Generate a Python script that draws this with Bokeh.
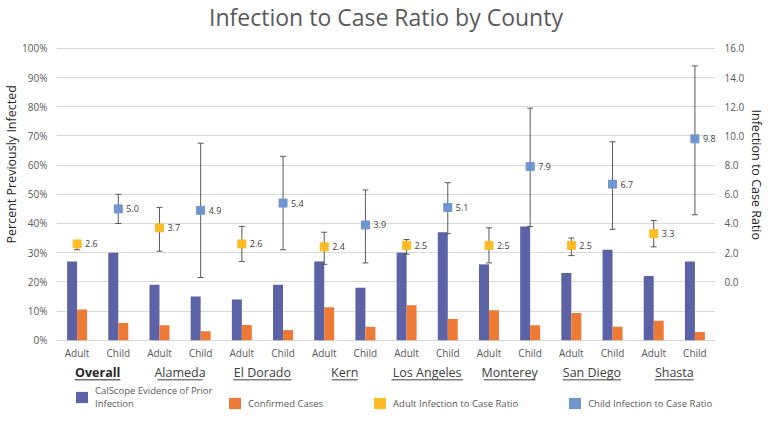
from bokeh.plotting import figure
from bokeh.models import (Range1d, LinearAxis, FixedTicker, PrintfTickFormatter,
                          ColumnDataSource, Legend, LegendItem, Title)
from bokeh.transform import dodge
from bokeh.embed import file_html
from bokeh.resources import INLINE

# ---------------- data ----------------
counties = ["Overall", "Alameda", "El Dorado", "Kern", "Los Angeles", "Monterey", "San Diego", "Shasta"]
ages = ["Adult", "Child"]
calscope = [27, 30, 19, 15, 14, 19, 27, 18, 30, 37, 26, 39, 23, 31, 22, 27]          # % prior infection
confirmed = [10.5, 5.9, 5.1, 3.1, 5.2, 3.5, 11.3, 4.6, 12.0, 7.3, 10.3, 5.1, 9.3, 4.6, 6.7, 2.8]  # % confirmed
ratio = [2.6, 5.0, 3.7, 4.9, 2.6, 5.4, 2.4, 3.9, 2.5, 5.1, 2.5, 7.9, 2.5, 6.7, 3.3, 9.8]
ratio_low = [2.2, 4.0, 2.1, 0.3, 1.4, 2.2, 1.2, 1.3, 1.9, 3.3, 1.3, 3.8, 1.8, 3.6, 2.4, 4.6]
ratio_high = [2.8, 6.0, 5.1, 9.5, 3.8, 8.6, 3.4, 6.3, 2.9, 6.8, 3.7, 11.9, 3.0, 9.6, 4.2, 14.8]
pct_ticks = list(range(0, 101, 10))
ratio_ticks = list(range(0, 17, 2))

# ---------------- style / layout ----------------
FONT = "Open Sans"
BLUE = "#5B62A6"
ORANGE = "#EE7A36"
YELLOW = "#FDBB26"
LBLUE = "#7096D0"
GRID = "#D9D9D9"
TXT = "#595959"
DARK = "#404040"
INK = "#262626"

W, H = 766, 411
BL, BR, BT, BB = 56, 50, 30, 0
frame_h = H - BT - BB
frame_w = W - BL - BR
hundred_px = 44 - BT          # px from frame top to the 100% line
zero_px = 339 - BT            # px from frame top to the 0% line
k = (zero_px - hundred_px) / 100.0   # px per percent
y_end = 100 + hundred_px / k
y_start = y_end - frame_h / k
n = len(calscope)
ux = frame_w / n              # px per category

p = figure(width=W, height=H, output_backend="svg", toolbar_location=None,
           x_range=Range1d(-0.5, n - 0.5), y_range=Range1d(y_start, y_end),
           x_axis_type=None,
           min_border_left=BL, min_border_right=BR, min_border_top=BT, min_border_bottom=BB)
p.outline_line_color = None
p.background_fill_color = "white"

p.title.text = "Infection to Case Ratio by County"
p.title.align = "center"
p.title.vertical_align = "top"
p.title.text_font = FONT
p.title.text_font_size = "23px"
p.title.text_font_style = "normal"
p.title.text_color = TXT
p.title.standoff = 0

# left axis
ya = p.yaxis[0]
ya.ticker = FixedTicker(ticks=pct_ticks)
ya.formatter = PrintfTickFormatter(format="%d%%")
ya.axis_line_color = None
ya.major_tick_line_color = None
ya.minor_tick_line_color = None
ya.major_tick_out = 0
ya.major_tick_in = 0
ya.major_label_text_font = FONT
ya.major_label_text_font_size = "10px"
ya.major_label_text_color = TXT
ya.major_label_standoff = 9
p.ygrid.ticker = FixedTicker(ticks=pct_ticks)
p.ygrid.grid_line_color = GRID

# right axis: ratio r drawn at 20 + 5*r percent
p.extra_y_ranges = {"ratio": Range1d((y_start - 20) / 5.0, (y_end - 20) / 5.0)}
ra = LinearAxis(y_range_name="ratio", ticker=FixedTicker(ticks=ratio_ticks),
                formatter=PrintfTickFormatter(format="%.1f"))
ra.axis_line_color = None
ra.major_tick_line_color = None
ra.minor_tick_line_color = None
ra.major_tick_out = 0
ra.major_tick_in = 0
ra.major_label_text_font = FONT
ra.major_label_text_font_size = "10px"
ra.major_label_text_color = TXT
ra.major_label_standoff = 9
p.add_layout(ra, "right")

# axis titles (as side titles so they can sit where the reference has them)
p.add_layout(Title(text="Percent Previously Infected", align="left", offset=H - BB - 243,
                   text_font=FONT, text_font_size="12.5px", text_font_style="normal",
                   text_color=INK, standoff=0), "left")
p.add_layout(Title(text="Infection to Case Ratio", align="left", offset=105 - BT,
                   text_font=FONT, text_font_size="12.5px", text_font_style="normal",
                   text_color=INK, standoff=0), "right")

# ---------------- sources ----------------
xs = list(range(n))
src = ColumnDataSource(dict(x=xs, calscope=calscope, confirmed=confirmed,
                            ratio=ratio, lo=ratio_low, hi=ratio_high,
                            lab=["%.1f" % r for r in ratio],
                            age=[ages[i % 2] for i in xs]))
adult = ColumnDataSource(dict(x=xs[0::2], ratio=ratio[0::2]))
child = ColumnDataSource(dict(x=xs[1::2], ratio=ratio[1::2]))

bw = 10.0 / ux
b1 = p.vbar(x=dodge("x", -bw / 2), top="calscope", bottom=0, width=bw, source=src,
            fill_color=BLUE, line_color=None)
b2 = p.vbar(x=dodge("x", bw / 2), top="confirmed", bottom=0, width=bw, source=src,
            fill_color=ORANGE, line_color=None)

# error bars
cap = 3.0 / ux
p.segment(x0="x", x1="x", y0="lo", y1="hi", source=src, y_range_name="ratio",
          line_color=TXT, line_width=1)
p.segment(x0=dodge("x", -cap), x1=dodge("x", cap), y0="lo", y1="lo", source=src,
          y_range_name="ratio", line_color=TXT, line_width=1)
p.segment(x0=dodge("x", -cap), x1=dodge("x", cap), y0="hi", y1="hi", source=src,
          y_range_name="ratio", line_color=TXT, line_width=1)

p.scatter(x="x", y="ratio", source=adult, marker="square", size=8,
          fill_color=YELLOW, line_color=YELLOW, y_range_name="ratio")
p.scatter(x="x", y="ratio", source=child, marker="square", size=8,
          fill_color=LBLUE, line_color=LBLUE, y_range_name="ratio")

p.text(x=dodge("x", 8.0 / ux), y="ratio", text="lab", source=src, y_range_name="ratio",
       text_font_size="9px", text_color=DARK, text_baseline="middle", text_align="left",
       text_font={"value": FONT})

# category labels inside the frame (below 0%)
p.text(x="x", y=-13.0 / k, text="age", source=src, text_font_size="10px",
       text_color=TXT, text_align="center", text_baseline="middle",
       text_font={"value": FONT})

gx = [2 * g + 0.5 for g in range(len(counties))]
gsize = 12.5
hw = [len(c) * 0.52 * gsize / 2.0 / ux for c in counties]
gsrc_b = ColumnDataSource(dict(x=gx[:1], name=counties[:1]))
gsrc = ColumnDataSource(dict(x=gx[1:], name=counties[1:]))
p.text(x="x", y=-33.0 / k, text="name", source=gsrc_b, text_font_size="12.5px",
       text_color=INK, text_font_style="bold", text_align="center",
       text_baseline="middle", text_font={"value": FONT})
p.text(x="x", y=-33.0 / k, text="name", source=gsrc, text_font_size="12.5px",
       text_color=DARK, text_align="center", text_baseline="middle",
       text_font={"value": FONT})
usrc = ColumnDataSource(dict(x0=[g - h for g, h in zip(gx, hw)],
                             x1=[g + h for g, h in zip(gx, hw)],
                             y=[-40.0 / k] * len(gx),
                             c=[INK] + [DARK] * (len(gx) - 1)))
p.segment(x0="x0", x1="x1", y0="y", y1="y", source=usrc, line_color="c", line_width=1)

# legend swatches for the ratio markers: zero-width bars on the ratio data
r3 = p.vbar(x="x", top="ratio", bottom=0, width=0, source=adult, y_range_name="ratio",
            fill_color=YELLOW, line_color=None)
r4 = p.vbar(x="x", top="ratio", bottom=0, width=0, source=child, y_range_name="ratio",
            fill_color=LBLUE, line_color=None)


def make_legend(items, x, spacing):
    lg = Legend(items=items, orientation="horizontal", location=(x, 1))
    lg.label_text_font = FONT
    lg.label_text_font_size = "9.5px"
    lg.label_text_color = TXT
    lg.glyph_width = 15
    lg.glyph_height = 14
    lg.label_standoff = 6
    lg.spacing = spacing
    lg.padding = 0
    lg.margin = 0
    lg.border_line_color = None
    lg.background_fill_alpha = 0
    return lg


p.add_layout(make_legend([LegendItem(label="CalScope Evidence of Prior\nInfection", renderers=[b1])],
                         74 - BL, 0))
p.add_layout(make_legend([LegendItem(label="Confirmed Cases", renderers=[b2]),
                          LegendItem(label="Adult Infection to Case Ratio", renderers=[r3]),
                          LegendItem(label="Child Infection to Case Ratio", renderers=[r4])],
                         227 - BL, 49))

open("out.html", "w").write(file_html(p, INLINE))
